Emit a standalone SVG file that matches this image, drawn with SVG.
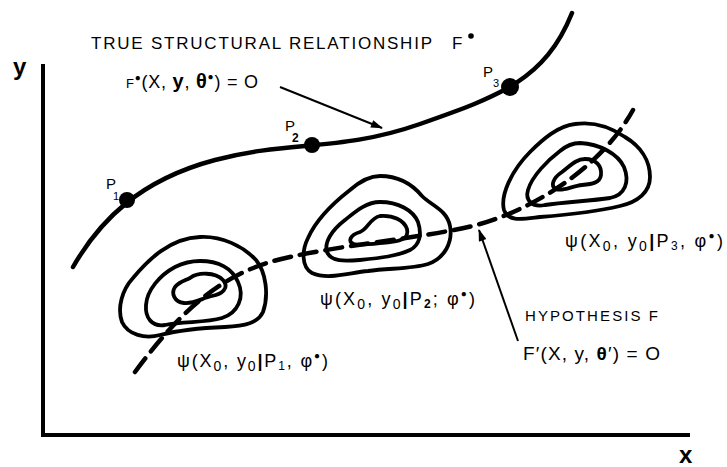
<svg xmlns="http://www.w3.org/2000/svg" width="727" height="467" viewBox="0 0 727 467">
<style>
.ax{stroke:#000;stroke-width:4;fill:none;stroke-linecap:square}
.cur{stroke:#000;stroke-width:4.5;fill:none;stroke-linecap:round}
.blob{stroke:#000;stroke-width:3.8;fill:none;stroke-linejoin:round}
.dash{stroke:#000;stroke-width:4.5;fill:none;stroke-dasharray:17 9;stroke-linecap:round}
.lead{stroke:#000;stroke-width:2;fill:none}
text{font-family:"Liberation Sans",Arial,sans-serif;fill:#000}
.lab{font-size:18px}
.sm{font-size:15px}
.ax-lab{font-size:24px;font-weight:bold}
</style>
<defs>
<marker id="ah" viewBox="0 0 12 8" refX="11" refY="4" markerWidth="13" markerHeight="8" markerUnits="userSpaceOnUse" orient="auto">
<path d="M0,0 L12,4 L0,8 Z" fill="#000"/>
</marker>
</defs>

<g id="axes">
<path class="ax" d="M43,66 L43,435 L688,435"/>
<text class="ax-lab" x="13" y="75">y</text>
<text class="ax-lab" x="679" y="463">x</text>
</g>

<g id="true-curve">
<path class="cur" d="M73,267 C100,220 140,180 215,160 C290,140 340,152 420,124 C500,96 545,80 572,13"/>
<text x="91" y="49" font-size="17" textLength="341" lengthAdjust="spacing">TRUE STRUCTURAL RELATIONSHIP</text>
<text font-size="17" x="452" y="49">F</text>
<circle cx="471" cy="36" r="2.8" fill="#000"/>
<text class="lab" x="126" y="88" textLength="132" lengthAdjust="spacing"><tspan font-size="13">F</tspan><tspan font-size="10" dy="-7">●</tspan><tspan dy="7">(X, </tspan><tspan font-weight="bold" font-size="20">y</tspan><tspan>, </tspan><tspan font-weight="bold" font-size="20">θ</tspan><tspan font-size="10" dy="-8">●</tspan><tspan dy="8">) = O</tspan></text>
</g>

<g id="p1">
<circle cx="127" cy="200" r="8"/>
<text class="sm" x="106" y="189">P</text>
<text font-size="11" x="113" y="200">1</text>
</g>
<g id="p2">
<circle cx="312" cy="145" r="8"/>
<text class="sm" x="285" y="131">P</text>
<text font-size="12" font-weight="bold" x="292" y="142">2</text>
</g>
<g id="p3">
<circle cx="510" cy="87" r="9"/>
<text class="sm" x="483" y="77">P</text>
<text font-size="11" x="493" y="87">3</text>
</g>

<g id="blob1">
<path class="blob" d="M200,237 C222,236 243,246 256,260 C266,272 269,295 263,312 C258,323 245,326 225,327 C200,328 180,330 160,335 C145,339 128,335 122,322 C117,308 122,290 133,278 C148,260 170,238 200,237 Z"/>
<path class="blob" d="M200,261 C218,261 232,268 238,282 C245,297 238,313 222,318 C205,323 185,321 165,325 C152,327 145,318 146,305 C147,290 160,275 175,267 C183,263 192,261 200,261 Z"/>
<path class="blob" d="M190,278 C198,272 215,272 223,280 C230,288 222,294 212,296 C202,298 195,304 184,303 C174,302 171,293 175,287 C179,282 184,281 190,278 Z"/>
<text class="lab" x="177" y="367" textLength="151" lengthAdjust="spacing">ψ(X<tspan font-size="14" dy="4">0</tspan><tspan dy="-4">, y</tspan><tspan font-size="14" dy="4">0</tspan><tspan dy="-4" font-weight="bold">|</tspan>P<tspan font-size="12" dy="3">1</tspan><tspan dy="-3">, φ</tspan><tspan font-size="10" dy="-8">●</tspan><tspan dy="8">)</tspan></text>
</g>

<g id="blob2">
<path class="blob" d="M380,176 C398,176 412,184 422,196 C432,206 447,210 450,226 C453,242 445,258 428,264 C412,269 390,268 368,271 C348,273 328,280 312,273 C301,267 302,250 308,238 C316,220 332,204 350,190 C358,183 368,176 380,176 Z"/>
<path class="blob" d="M380,202 C398,202 413,210 418,222 C422,234 420,245 410,250 C398,256 380,258 360,260 C345,261 331,262 327,252 C324,242 332,230 345,220 C355,212 366,202 380,202 Z"/>
<path class="blob" d="M380,216 C393,215 404,220 407,229 C409,238 402,241 390,242 C378,243 362,246 354,244 C347,242 350,235 360,232 C368,229 370,218 380,216 Z"/>
<text class="lab" x="320" y="305" textLength="155" lengthAdjust="spacing">ψ(X<tspan font-size="14" dy="4">0</tspan><tspan dy="-4">, y</tspan><tspan font-size="14" dy="4">0</tspan><tspan dy="-4" font-weight="bold">|</tspan>P<tspan font-size="12" font-weight="bold" dy="3">2</tspan><tspan dy="-3">; φ</tspan><tspan font-size="10" dy="-8">●</tspan><tspan dy="8">)</tspan></text>
</g>

<g id="blob3">
<path class="blob" d="M575,124 C595,121 612,128 625,137 C640,146 650,160 650,177 C650,192 638,202 620,206 C595,212 565,215 540,217 C522,219 508,222 504,210 C500,195 512,170 530,152 C543,139 558,126 575,124 Z"/>
<path class="blob" d="M580,143 C600,144 618,154 624,167 C630,182 625,195 610,198 C590,201 565,202 545,205 C532,208 525,200 528,190 C532,176 548,160 560,151 C566,146 573,143 580,143 Z"/>
<path class="blob" d="M585,159 C596,159 602,166 601,175 C600,183 592,184 582,185 C572,186 562,192 556,189 C550,186 553,178 562,172 C570,166 576,159 585,159 Z"/>
<text class="lab" x="565" y="247" textLength="158" lengthAdjust="spacing">ψ(X<tspan font-size="14" dy="4">0</tspan><tspan dy="-4">, y</tspan><tspan font-size="14" dy="4">0</tspan><tspan dy="-4" font-weight="bold">|</tspan>P<tspan font-size="12" dy="3">3</tspan><tspan dy="-3">, φ</tspan><tspan font-size="10" dy="-8">●</tspan><tspan dy="8">)</tspan></text>
</g>

<g id="hypothesis">
<text class="sm" x="525" y="321" textLength="133" lengthAdjust="spacing">HYPOTHESIS F</text>
<text x="523" y="360" font-size="19" textLength="137" lengthAdjust="spacing">F′(X, y, <tspan font-weight="bold">θ</tspan>′) = O</text>
</g>

<g id="connectors">
<path class="dash" d="M135,372 C170,325 210,280 270,262 C330,245 430,238 480,224 C530,210 600,170 633,110"/>
<line class="lead" x1="280" y1="87" x2="382" y2="128" marker-end="url(#ah)"/>
<line class="lead" x1="518" y1="341" x2="479" y2="230" marker-end="url(#ah)"/>
</g>
</svg>
